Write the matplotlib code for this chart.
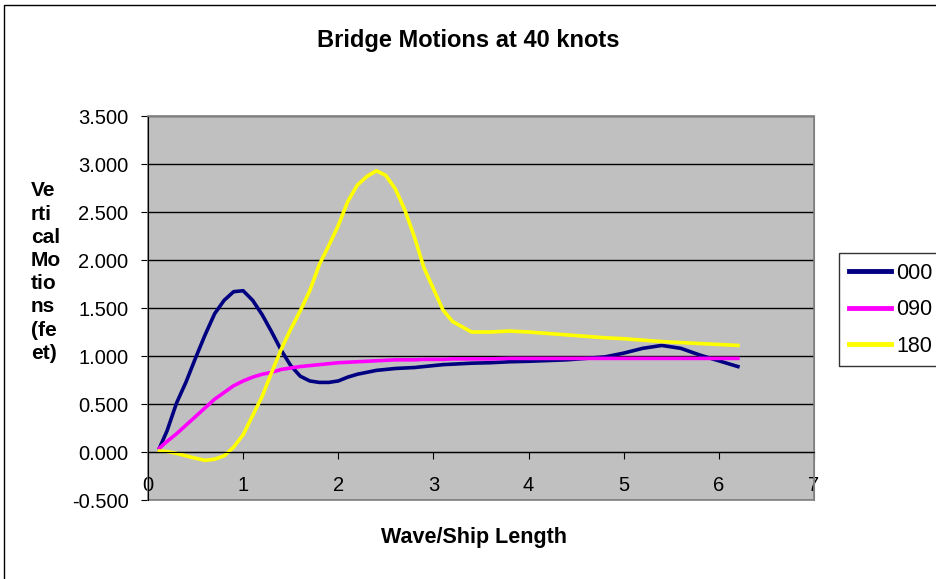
import numpy as np
import matplotlib
matplotlib.use("Agg")
import matplotlib.pyplot as plt
from matplotlib.patches import Rectangle

# wave/ship length values
x = [0.12, 0.2, 0.3, 0.4, 0.5, 0.6, 0.7, 0.8, 0.9, 1.0, 1.1, 1.2, 1.3, 1.4, 1.5,
     1.6, 1.7, 1.8, 1.9, 2.0, 2.1, 2.2, 2.3, 2.4, 2.5, 2.6, 2.7, 2.8, 2.9, 3.0,
     3.1, 3.2, 3.4, 3.6, 3.8, 4.0, 4.4, 4.8, 5.0, 5.2, 5.4, 5.6, 5.8, 6.0, 6.2]

# vertical motions (feet) for each heading
h000 = [0.04, 0.22, 0.51, 0.73, 0.98, 1.22, 1.44, 1.58, 1.67, 1.68, 1.58, 1.43, 1.25, 1.06, 0.90,
        0.79, 0.74, 0.725, 0.725, 0.74, 0.78, 0.81, 0.83, 0.85, 0.86, 0.87, 0.875, 0.88, 0.89, 0.90,
        0.91, 0.915, 0.925, 0.93, 0.94, 0.945, 0.96, 0.99, 1.03, 1.08, 1.11, 1.08, 1.01, 0.95, 0.89]
h090 = [0.04, 0.11, 0.19, 0.28, 0.37, 0.46, 0.55, 0.62, 0.69, 0.74, 0.78, 0.81, 0.83, 0.86, 0.875,
        0.89, 0.90, 0.91, 0.92, 0.93, 0.935, 0.94, 0.945, 0.95, 0.955, 0.96, 0.96, 0.96, 0.965, 0.965,
        0.965, 0.97, 0.97, 0.97, 0.975, 0.975, 0.975, 0.975, 0.975, 0.975, 0.975, 0.975, 0.975, 0.975, 0.975]
h180 = [0.01, 0.005, -0.015, -0.04, -0.065, -0.087, -0.075, -0.04, 0.05, 0.18, 0.38, 0.58, 0.83, 1.07, 1.28,
        1.47, 1.68, 1.95, 2.15, 2.36, 2.61, 2.78, 2.87, 2.93, 2.88, 2.74, 2.52, 2.24, 1.92, 1.70,
        1.48, 1.36, 1.25, 1.25, 1.26, 1.25, 1.22, 1.19, 1.18, 1.165, 1.15, 1.14, 1.13, 1.12, 1.11]

labels = ["000", "090", "180"]
colors = ["#000080", "#ff00ff", "#ffff00"]

plt.rcParams['font.family'] = ['Liberation Sans', 'DejaVu Sans']

fig = plt.figure(figsize=(9.36, 5.79), dpi=100)
ax = fig.add_axes([148/936, 1 - 500/579, 666/936, 384/579])
ax.set_facecolor("#c0c0c0")

for ys, lab, c in zip([h000, h090, h180], labels, colors):
    ax.plot(x, ys, color=c, lw=2.6, label=lab)

yt = np.arange(-0.5, 3.51, 0.5)
ax.set_xlim(0, 7)
ax.set_ylim(-0.5, 3.5)
ax.set_yticks(yt)
ax.set_yticklabels([f"{v:.3f}" for v in yt])
ax.set_xticks(range(0, 8))
ax.set_xticklabels([str(i) for i in range(0, 8)])
ax.yaxis.grid(True, color="black", lw=1)
ax.set_axisbelow(True)

ax.spines['bottom'].set_position(('data', 0))
ax.spines['bottom'].set_color('black')
ax.spines['left'].set_color('black')
ax.spines['top'].set_color('#808080')
ax.spines['right'].set_color('#808080')
ax.add_patch(Rectangle((0, 0), 1, 1, transform=ax.transAxes, fill=False,
                       edgecolor='#808080', lw=1.2, clip_on=False))
ax.tick_params(axis='y', direction='out', length=5, pad=9, labelsize=14.5)
ax.tick_params(axis='x', direction='out', length=5, pad=12, labelsize=14.5)

fig.text(468/936, 1 - 40/579, "Bridge Motions at 40 knots", ha='center', va='center',
         fontsize=17, fontweight='bold')
fig.text(474/936, 1 - 538/579, "Wave/Ship Length", ha='center', va='center',
         fontsize=15.5, fontweight='bold')
fig.text(31/936, 1 - 272/579, "Ve\nrti\ncal\nMo\ntio\nns\n(fe\net)", ha='left', va='center',
         fontsize=15, fontweight='bold', linespacing=1.28)

leg = ax.legend(loc='upper left', bbox_to_anchor=(839/936, 1 - 253/579),
                bbox_transform=fig.transFigure, fontsize=15.5, frameon=True,
                fancybox=False, handlelength=1.95, labelspacing=0.72, borderpad=0.45,
                borderaxespad=0, handletextpad=0.25)
leg.get_frame().set_edgecolor('black')
leg.get_frame().set_linewidth(1)
for line in leg.get_lines():
    line.set_linewidth(3.5)

fig.patches.append(Rectangle((4/936, -0.1), 1.1, 1 - 5/579 + 0.1, transform=fig.transFigure,
                             fill=False, edgecolor='black', lw=1))

fig.savefig("out.png", dpi=100)
